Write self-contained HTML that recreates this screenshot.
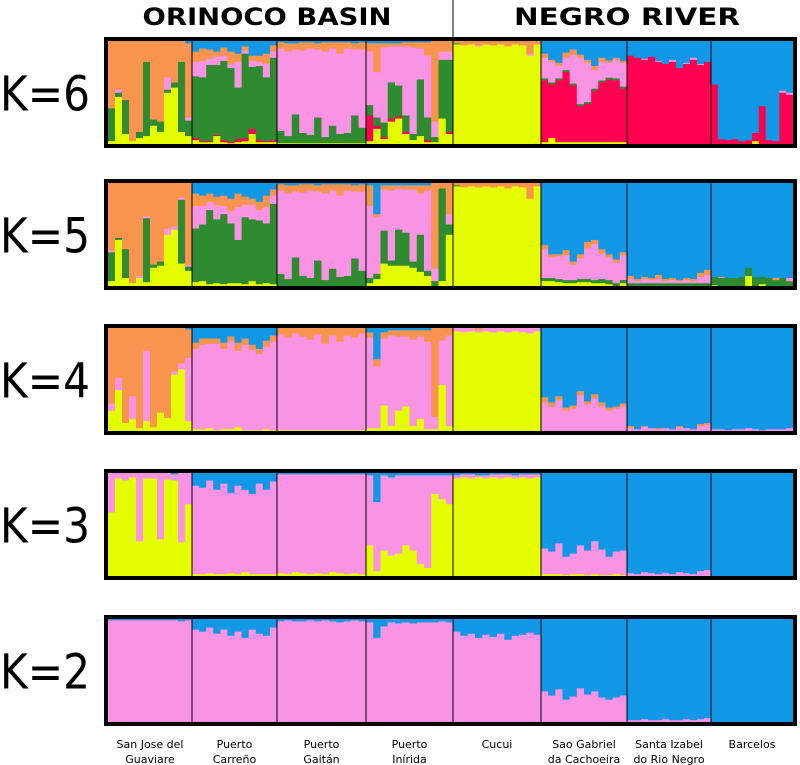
<!DOCTYPE html>
<html><head><meta charset="utf-8"><style>
html,body{margin:0;padding:0;background:#fff;width:800px;height:765px;overflow:hidden}
svg{display:block}
</style></head><body>
<svg id="chart" width="800" height="765" viewBox="0 0 800 765" xmlns="http://www.w3.org/2000/svg">
<g id="header">
<text x="267" y="25" text-anchor="middle" font-family="DejaVu Sans, Liberation Sans, sans-serif" font-weight="bold" font-size="24" textLength="249" lengthAdjust="spacingAndGlyphs">ORINOCO BASIN</text>
<text x="627" y="25" text-anchor="middle" font-family="DejaVu Sans, Liberation Sans, sans-serif" font-weight="bold" font-size="24" textLength="226" lengthAdjust="spacingAndGlyphs">NEGRO RIVER</text>
<line x1="453" y1="0" x2="453" y2="37" stroke="#000" stroke-width="1"/>
</g>
<g id="panels"></g>
<g id="poplabels"></g>
</svg>
<script>
// Data: each individual string lists ancestry shares (y=yellow,r=red,g=green,p=pink,o=orange,b=blue)
const populations = ["San Jose del|Guaviare","Puerto|Carreño","Puerto|Gaitán","Puerto|Inírida","Cucui","Sao Gabriel|da Cachoeira","Santa Izabel|do Rio Negro","Barcelos"];
const kValues = ["K=6","K=5","K=4","K=3","K=2"];

const k6 = [
 ["g32 y3 o65","y46 g4 p3 o47","y10 g33 o57","y3 o97","y6 g6 o88","y8 g72 o20","y18 g6 o76","y12 g10 o78","y50 g3 p12 o35","y55 g5 o40","y12 g68 o20","y8 g15 p3 o72 b2"],
 ["y4 r2 g60 p14 o10 b10","y2 r1 g62 p16 o12 b7","y2 r1 g74 p6 o9 b8","y8 r1 g68 p8 o5 b10","y2 r2 g77 p5 o8 b6","y1 r1 g72 p4 o12 b10","y2 r3 g50 p25 o8 b12","y3 r3 g82 p3 o4 b5","y10 r5 g60 p6 o5 b14","y2 r2 g72 p4 o6 b14","y2 r1 g62 p13 o10 b12","y2 r2 g80 p6 o6 b4"],
 ["y1 g12 p80 o6 b1","y1 g7 p82 o8 b2","y1 g28 p63 o6 b2","y1 g10 p80 o8 b1","y1 g8 p84 o6 b1","y1 g25 p66 o6 b2","y1 g6 p83 o9 b1","y1 g17 p75 o6 b1","y1 g9 p78 o11 b1","y1 g10 p82 o6 b1","y1 g27 p64 o6 b2","y1 g15 p76 o7 b1"],
 ["y3 r25 g10 p52 o8 b2","y15 r3 g8 p44 o28 b2","y5 r2 g14 p73 o4 b2","y22 r3 g35 p35 o3 b2","y25 r2 g30 p38 o3 b2","y10 r2 g16 p67 o4 b1","y4 g6 p84 o5 b1","y8 g55 p30 o6 b1","y2 r2 g22 p60 o13 b1","y2 g5 p15 o78","y25 g57 p8 o10","y10 r2 g70 p8 o10"],
 ["y97 g1 o2","y96 o4","y97 o3","y95 p1 o4","y97 o3","y96 o4","y97 o3","y95 o5","y97 o3","y96 o4","y86 p2 o12","y97 o3"],
 ["y2 r60 g2 p20 o4 b12","y6 r52 g2 p20 o2 b18","y2 r60 g2 p12 o3 b21","y2 r68 g2 p12 o5 b11","y2 r55 g2 p28 o5 b8","y2 r35 g2 p45 o3 b13","y2 r37 g2 p38 o3 b18","y2 r50 g2 p18 o4 b24","y2 r58 g2 p18 o4 b16","y2 r62 g2 p15 o2 b19","y2 r60 g2 p18 o2 b16","y2 r52 g2 p23 o2 b19"],
 ["r86 b14","r84 b16","r82 p1 b17","r85 b15","r80 p1 b19","r78 b22","r80 p2 b18","r74 b26","r78 p1 b21","r82 p2 b16","r77 p1 b22","r80 b20"],
 ["r58 b42","r5 b95","r4 b96","r5 b95","r3 b97","r4 b96","y3 r8 b89","r37 b63","r4 b96","r3 b97","r50 p2 b48","r48 p2 b50"]
];
const k5 = [
 ["g28 y5 p2 o65","y45 g2 o53","y8 g28 o64","y3 o97","y8 p2 o90","y4 g62 p2 o32","y18 g3 o79","y20 g4 o76","y50 p6 o44","y55 p3 o42","y22 g62 p2 o14","y15 g4 p2 o79"],
 ["g52 p22 y4 o12 b10","g55 p18 y5 o10 b12","g72 p8 y2 o8 b10","g62 p14 y3 o8 b13","g68 p8 y2 o10 b12","g58 p12 y3 o12 b15","g42 p32 y3 o13 b10","g65 p12 y2 o8 b13","g60 p14 y5 o6 b15","g62 p10 y2 o8 b18","g58 p16 y3 o11 b12","g78 p8 y2 o6 b6"],
 ["g12 p81 o6 b1","g7 p83 o8 b2","g28 p64 o6 b2","g10 p81 o8 b1","g8 p85 o6 b1","g25 p67 o6 b2","g6 p84 o9 b1","g17 p76 o6 b1","g9 p79 o11 b1","g10 p83 o6 b1","g27 p65 o6 b2","g15 p77 o7 b1"],
 ["g5 p70 o20 y3 b2","g5 p55 o3 y7 b30","g32 p40 y22 o4 b2","g5 p68 y20 o5 b2","g35 p40 y20 o3 b2","g32 p42 y20 o4 b2","g6 p70 y18 o4 b2","g36 p40 y14 o8 b2","g5 p78 y10 o5 b2","g5 p12 o83","g90 y5 o5","g10 p10 y50 o30"],
 ["y97 g1 o2","y96 o4","y97 o3","y96 o4","y97 o3","y96 o4","y97 o3","y95 o5","y97 o3","y96 o4","y85 o15","y97 o3"],
 ["g3 p28 y5 o4 b60","g3 p20 y5 o3 b69","g3 p22 y4 o2 b69","g3 p24 y3 o5 b65","g3 p15 y3 o3 b76","g3 p20 y4 o4 b69","g3 p30 y4 o6 b57","g3 p35 y3 o4 b55","g4 p25 y3 o4 b64","g4 p22 y2 o3 b69","g3 p20 o3 b74","g3 p24 y3 o3 b67"],
 ["g3 p4 o3 b90","g3 p2 o2 b93","g3 p4 o2 b91","g3 p3 o2 b92","g3 p4 o4 b89","g3 p2 o2 b93","g3 p3 o2 b92","g3 p2 o1 b94","g3 p3 o2 b92","g3 p2 o2 b93","g3 p6 o4 b87","g3 p8 o5 b84"],
 ["g8 y1 b91","g8 o1 b91","g8 b92","g8 b92","g9 b91","g8 y10 b82","g9 b91","g7 y2 b91","g8 b92","g6 o2 b92","g8 b92","g5 p3 b92"]
];
const k4 = [
 ["y20 p7 o73","y40 p12 o48","y8 o92","y12 p22 o66","y3 o97","y10 p68 o22","y4 o96","y18 o82","y13 o87","y55 p3 o42","y60 p6 o34","y10 p62 o28 b1"],
 ["y2 p78 o6 b14","y2 p82 o6 b10","y3 p82 o5 b10","y1 p84 o5 b10","y2 p78 o6 b14","y2 p85 o5 b8","y4 p74 o8 b14","y1 p83 o6 b10","y1 p78 o5 b16","y1 p74 o5 b20","y2 p80 o6 b12","y1 p86 o6 b7"],
 ["y1 p93 o6","y1 p90 o9","y1 p94 o5","y1 p91 o8","y1 p88 o11","y1 p93 o6","y1 p84 o15","y1 p92 o7","y1 p86 o13","y1 p92 o7","y1 p90 o9","y1 p94 o5"],
 ["y3 p88 o5 b4","y3 p60 o7 b30","y25 p65 o6 b4","y5 p88 o5 b2","y20 p72 o6 b2","y24 p68 o6 b2","y5 p84 o9 b2","y12 p80 o6 b2","y2 p85 o11 b2","y2 p12 o86","y45 p43 o12","y5 p88 o7"],
 ["y97 p3","y96 p4","y97 p3","y96 p2 o2","y97 p3","y96 p4","y97 p3","y96 p4","y97 p3","y96 p4","y95 p5","y97 p3"],
 ["p28 o5 b67","p24 o4 b72","p30 o4 b66","p20 o3 b77","p22 o3 b75","p35 o4 b61","p26 o3 b71","p32 o4 b64","p24 o4 b72","p20 o3 b77","p22 o2 b76","p24 o3 b73"],
 ["p3 o2 b95","p2 b98","p4 o1 b95","p3 b97","p2 o1 b97","p3 b97","p2 b98","p4 o1 b95","p3 b97","p2 b98","p5 o2 b93","p6 o2 b92"],
 ["p2 b98","p2 b98","p1 b99","p2 b98","p2 b98","p3 b97","p2 b98","p1 b99","p2 b98","p2 b98","p2 b98","p3 b97"]
];
const k3 = [
 ["y62 p38","y95 p5","y93 p7","y96 p4","y34 p66","y95 p5","y95 p5","y36 p64","y94 p6","y93 p6 b1","y33 p67","y70 p30"],
 ["y2 p86 b12","y2 p84 b14","y3 p90 b7","y2 p82 b16","y2 p88 b10","y3 p78 b19","y2 p86 b12","y4 p80 b16","y2 p78 b20","y2 p88 b10","y2 p82 b16","y2 p90 b8"],
 ["y3 p96 b1","y2 p97 b1","y4 p95 b1","y3 p96 b1","y2 p97 b1","y3 p96 b1","y2 p97 b1","y4 p95 b1","y3 p96 b1","y2 p97 b1","y3 p96 b1","y2 p97 b1"],
 ["y30 p68 b2","y5 p67 b28","y25 p73 b2","y20 p76 b4","y22 p76 b2","y30 p68 b2","y25 p73 b2","y12 p86 b2","y8 p90 b2","y80 p18 b2","y75 p23 b2","y70 p28 b2"],
 ["y95 p3 b2","y96 p3 b1","y95 p4 b1","y96 p2 b2","y95 p3 b2","y96 p3 b1","y95 p4 b1","y96 p3 b1","y95 p3 b2","y96 p3 b1","y95 p4 b1","y96 p3 b1"],
 ["y2 p25 b73","y2 p22 b76","y2 p30 b68","y1 p18 b81","y2 p20 b78","y2 p28 b70","y1 p24 b75","y2 p32 b66","y1 p25 b74","y1 p18 b81","y2 p22 b76","y1 p24 b75"],
 ["p3 b97","p2 b98","p4 b96","p3 b97","p2 b98","p3 b97","p2 b98","p4 b96","p3 b97","p2 b98","p5 b95","p6 b94"],
 ["b100","b100","b100","b100","b100","b100","b100","b100","b100","b100","b100","b100"]
];
const k2 = [
 ["p99 b1","p99 b1","p99 b1","p99 b1","p99 b1","p99 b1","p99 b1","p99 b1","p99 b1","p99 b1","p98 b2","p99 b1"],
 ["p90 b10","p88 b12","p92 b8","p86 b14","p90 b10","p84 b16","p88 b12","p82 b18","p90 b10","p86 b14","p84 b16","p92 b8"],
 ["p98 b2","p99 b1","p98 b2","p98 b2","p99 b1","p98 b2","p99 b1","p98 b2","p97 b3","p98 b2","p99 b1","p98 b2"],
 ["p97 b3","p82 b18","p93 b7","p97 b3","p96 b4","p97 b3","p96 b4","p97 b3","p97 b3","p97 b3","p98 b2","p97 b3"],
 ["p88 b12","p84 b16","p86 b14","p82 b18","p85 b15","p83 b17","p86 b14","p80 b20","p84 b16","p85 b15","p87 b13","p85 b15"],
 ["p30 b70","p26 b74","p32 b68","p22 b78","p25 b75","p33 b67","p27 b73","p30 b70","p24 b76","p22 b78","p24 b76","p26 b74"],
 ["p2 b98","p2 b98","p3 b97","p2 b98","p2 b98","p3 b97","p2 b98","p2 b98","p3 b97","p2 b98","p3 b97","p4 b96"],
 ["b100","b100","b100","b100","b100","b100","b100","b100","b100","b100","b100","b100"]
];
const panelData = [k6,k5,k4,k3,k2];

// Layout
const order = ["y","r","g","p","o","b"];
const colors = {y:"#e4fe00",r:"#ff0050",g:"#2f8b2f",p:"#f993e3",o:"#f8944e",b:"#1098e6"};
const panelTops = [37,179,324,469,615];
const panelH = 111, frameL = 104, frameR = 797, bw = 4;
const popEdges = [108,192,277,366,453,541,627,711,793];
const NS = "http://www.w3.org/2000/svg";
function mk(tag, attrs){const e=document.createElementNS(NS,tag);for(const k in attrs)e.setAttribute(k,attrs[k]);return e;}
function parse(s){const o={};s.trim().split(/\s+/).forEach(t=>{o[t[0]]=parseFloat(t.slice(1));});return o;}

const panelsG = document.getElementById("panels");
panelData.forEach((pd, ki) => {
  const g = mk("g",{});
  
  
  const top = panelTops[ki];
  const iy0 = top + bw, iy1 = top + panelH - bw, ih = iy1 - iy0;
  const yScale = v => iy1 - v/100*ih;
  pd.forEach((pop, pi) => {
    const x0 = popEdges[pi], x1 = popEdges[pi+1];
    const w = (x1 - x0) / pop.length;
    pop.forEach((ind, ii) => {
      const q = parse(ind);
      let tot = 0; order.forEach(c => tot += (q[c]||0));
      let cum = 0;
      order.forEach(c => {
        const v = (q[c]||0) / tot * 100;
        if (v <= 0) return;
        const ya = yScale(cum + v), yb = yScale(cum);
        const r = mk("rect",{x:(x0+ii*w).toFixed(2), y:ya.toFixed(2), width:(w+0.4).toFixed(2), height:(yb-ya+0.3).toFixed(2), fill:colors[c]});
        
        
        g.appendChild(r);
        cum += v;
      });
    });
    if (pi > 0) {
      const l = mk("line",{x1:x0, x2:x0, y1:iy0, y2:iy1, stroke:"#000", "stroke-width":1});
      
      
      g.appendChild(l);
    }
  });
  const fr = mk("rect",{x:frameL+bw/2, y:top+bw/2, width:frameR-frameL-bw, height:panelH-bw, fill:"none", stroke:"#000", "stroke-width":bw});
  
  
  g.appendChild(fr);
  const t = mk("text",{x:0, y:top+panelH/2+18, "font-family":"DejaVu Sans, Liberation Sans, sans-serif", "font-size":48, textLength:90, lengthAdjust:"spacingAndGlyphs"});
  t.textContent = kValues[ki];
  
  
  g.appendChild(t);
  panelsG.appendChild(g);
});

const labG = document.getElementById("poplabels");
populations.forEach((name, pi) => {
  const cx = (popEdges[pi] + popEdges[pi+1]) / 2;
  const t = mk("text",{x:cx, y:748, "text-anchor":"middle", "font-family":"DejaVu Sans, Liberation Sans, sans-serif", "font-size":11});
  
  
  name.split("|").forEach((ln, li) => {
    const s = mk("tspan",{x:cx, dy: li===0 ? 0 : 15});
    s.textContent = ln;
    t.appendChild(s);
  });
  labG.appendChild(t);
});
</script>
</body></html>
